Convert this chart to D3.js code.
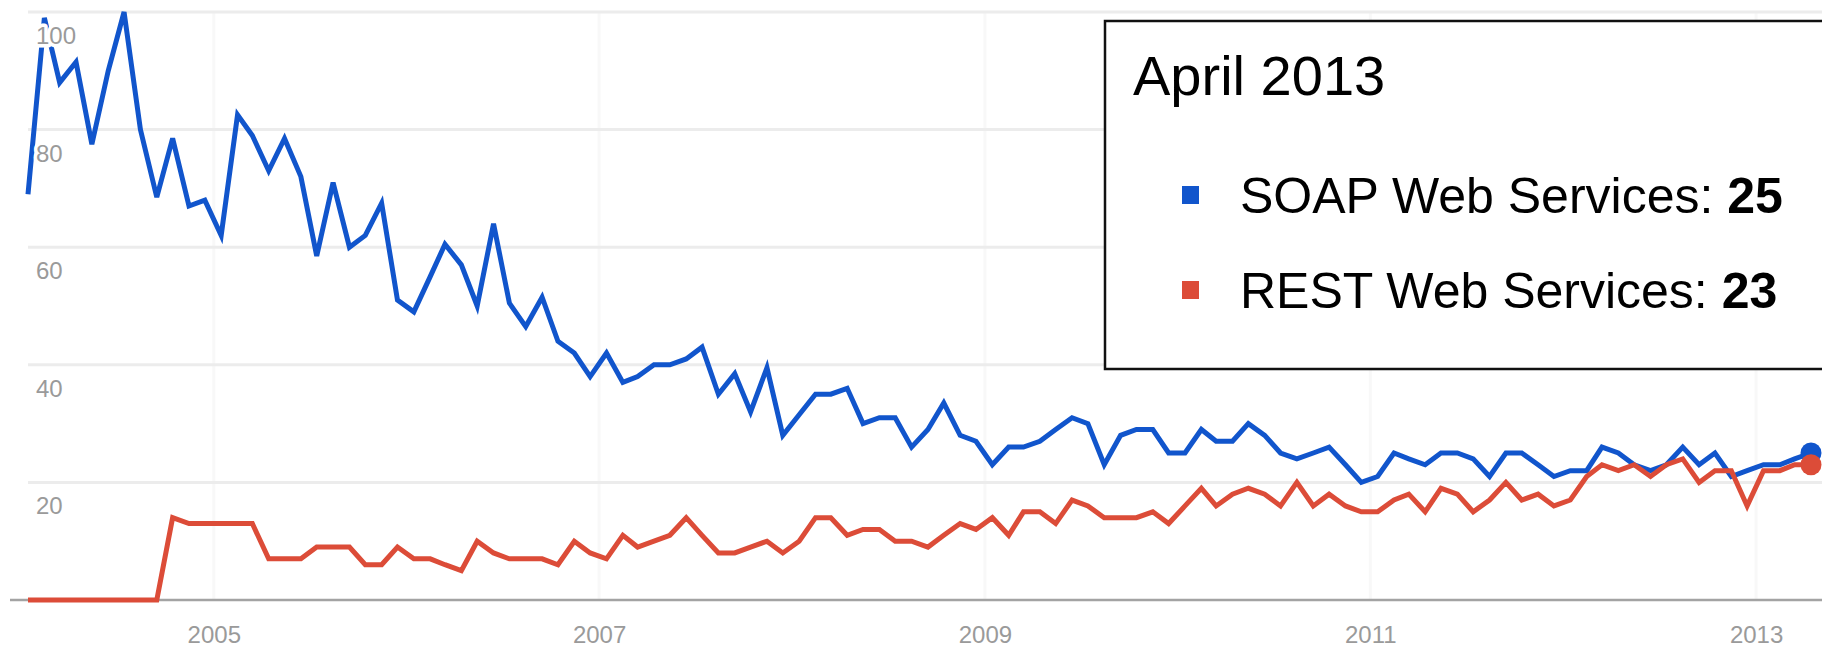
<!DOCTYPE html>
<html>
<head>
<meta charset="utf-8">
<script src="https://cdn.jsdelivr.net/npm/d3@7"></script>
<style>
  body { margin: 0; background: #fff; }
  svg { display: block; font-family: "Liberation Sans", Arial, sans-serif; }
</style>
</head>
<body>
<div class="chart"></div>
<script>
// monthly interest, Jan 2004 .. Apr 2013
var soap = [69, 99, 88, 91.5, 77.5, 90, 100, 80, 68.5, 78.5, 67, 68,
            62, 82.5, 79, 73, 78.5, 72, 58.5, 71, 60, 62, 67.5, 51,
            49, 55, 60.5, 57, 50, 64, 50.5, 46.5, 51.5, 44, 42, 38,
            42, 37, 38, 40, 40, 41, 43, 35, 38.5, 32, 39.5, 28,
            31.5, 35, 35, 36, 30, 31, 31, 26, 29, 33.5, 28, 27,
            23, 26, 26, 27, 29, 31, 30, 23, 28, 29, 29, 25,
            25, 29, 27, 27, 30, 28, 25, 24, 25, 26, 23, 20,
            21, 25, 24, 23, 25, 25, 24, 21, 25, 25, 23, 21,
            22, 22, 26, 25, 23, 22, 23, 26, 23, 25, 21, 22,
            23, 23, 24, 25];
var rest = [0, 0, 0, 0, 0, 0, 0, 0, 0, 14, 13, 13,
            13, 13, 13, 7, 7, 7, 9, 9, 9, 6, 6, 9,
            7, 7, 6, 5, 10, 8, 7, 7, 7, 6, 10, 8,
            7, 11, 9, 10, 11, 14, 11, 8, 8, 9, 10, 8,
            10, 14, 14, 11, 12, 12, 10, 10, 9, 11, 13, 12,
            14, 11, 15, 15, 13, 17, 16, 14, 14, 14, 15, 13,
            16, 19, 16, 18, 19, 18, 16, 20, 16, 18, 16, 15,
            15, 17, 18, 15, 19, 18, 15, 17, 20, 17, 18, 16,
            17, 21, 23, 22, 23, 21, 23, 24, 20, 22, 22, 16,
            22, 22, 23, 23];
var seriesNames = ["SOAP Web Services", "REST Web Services"];
var seriesColors = ["#1155cc", "#dc4c38"];
var yTicks = [20, 40, 60, 80, 100];
var xTickYears = [2005, 2007, 2009, 2011, 2013];
var legendTitle = "April 2013";

var w = 1822, h = 647;
var padL = 28, padR = 1811, padT = 12, padB = 600;

var svg = d3.select("div.chart").append("svg")
    .attr("width", w).attr("height", h);

// points sit in the middle of each month
var dates = soap.map(function(d, i) { return new Date(2004, i, 15); });

var xScale = d3.scaleTime()
    .domain([dates[0], dates[dates.length - 1]])
    .range([padL, padR]);
var yScale = d3.scaleLinear()
    .domain([0, 100])
    .range([padB, padT]);

// faint year lines
svg.selectAll("line.vgrid")
    .data(xTickYears).enter().append("line")
    .attr("class", "vgrid")
    .attr("x1", function(d) { return xScale(new Date(d, 0, 1)); })
    .attr("x2", function(d) { return xScale(new Date(d, 0, 1)); })
    .attr("y1", padT).attr("y2", padB)
    .attr("stroke", "#f8f8f8").attr("stroke-width", 3);

// horizontal grid
svg.selectAll("line.hgrid")
    .data(yTicks).enter().append("line")
    .attr("class", "hgrid")
    .attr("x1", padL).attr("x2", w)
    .attr("y1", function(d) { return yScale(d); })
    .attr("y2", function(d) { return yScale(d); })
    .attr("stroke", "#ececec").attr("stroke-width", 3);

// baseline
svg.append("line")
    .attr("x1", 10).attr("x2", w)
    .attr("y1", yScale(0)).attr("y2", yScale(0))
    .attr("stroke", "#a3a3a3").attr("stroke-width", 2.5);

// x labels
var xAxis = d3.axisBottom(xScale)
    .tickValues(xTickYears.map(function(y) { return new Date(y, 0, 1); }))
    .tickFormat(d3.timeFormat("%Y"))
    .tickSize(0).tickPadding(0);
var gx = svg.append("g")
    .attr("transform", "translate(0," + (padB + 43) + ")")
    .call(xAxis);
gx.select(".domain").remove();
gx.selectAll("text")
    .attr("dy", 0)
    .attr("font-family", "Liberation Sans, Arial, sans-serif")
    .attr("font-size", "24px")
    .attr("fill", "#9a9a9a");

// lines
var line = d3.line()
    .x(function(d, i) { return xScale(dates[i]); })
    .y(function(d) { return yScale(d); });

[soap, rest].forEach(function(s, k) {
    svg.append("path")
        .datum(s)
        .attr("d", line)
        .attr("fill", "none")
        .attr("stroke", seriesColors[k])
        .attr("stroke-width", 5)
        .attr("stroke-linejoin", "miter");
});

// y labels, drawn over the lines with a white halo
svg.selectAll("text.ylab")
    .data(yTicks).enter().append("text")
    .attr("class", "ylab")
    .attr("x", 36)
    .attr("y", function(d) { return yScale(d) + 32; })
    .attr("font-size", "24px")
    .attr("fill", "#9a9a9a")
    .attr("stroke", "#fff").attr("stroke-width", 7)
    .attr("stroke-linejoin", "round")
    .attr("paint-order", "stroke")
    .text(function(d) { return d; });

// end dots
[soap, rest].forEach(function(s, k) {
    var n = s.length - 1;
    svg.append("circle")
        .attr("cx", xScale(dates[n]))
        .attr("cy", yScale(s[n]))
        .attr("r", 10.5)
        .attr("fill", seriesColors[k]);
});

// legend box
var lg = svg.append("g");
lg.append("rect")
    .attr("x", 1105).attr("y", 21)
    .attr("width", 740).attr("height", 348)
    .attr("fill", "#fff")
    .attr("stroke", "#111").attr("stroke-width", 2.5);
lg.append("text")
    .attr("x", 1133).attr("y", 95)
    .attr("font-size", "56px")
    .attr("fill", "#000")
    .text(legendTitle);

var lastVals = [soap[soap.length - 1], rest[rest.length - 1]];
seriesNames.forEach(function(name, k) {
    var by = 213 + k * 95;
    lg.append("rect")
        .attr("x", 1182).attr("y", by - 27)
        .attr("width", 17).attr("height", 18)
        .attr("fill", seriesColors[k]);
    var t = lg.append("text")
        .attr("x", 1240).attr("y", by)
        .attr("font-size", "50px")
        .attr("fill", "#000")
        .text(name + ": ");
    t.append("tspan")
        .attr("font-weight", "bold")
        .text(lastVals[k]);
});
</script>
</body>
</html>
